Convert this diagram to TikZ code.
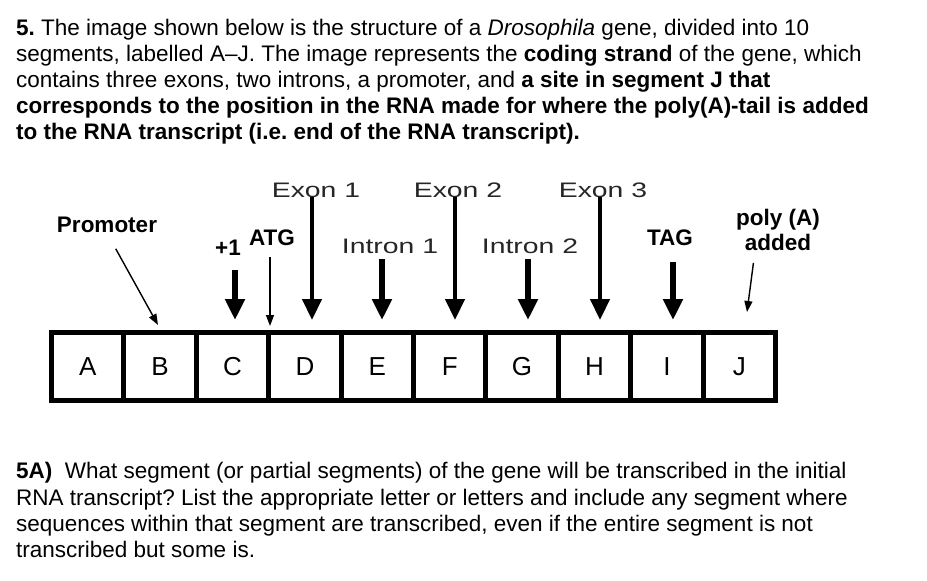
\documentclass[tikz,border=0pt]{standalone}
\usepackage{fontspec}
\setmainfont{Liberation Sans}
\usepackage{graphicx}
\usetikzlibrary{arrows.meta}
\frenchspacing

\begin{document}
\begin{tikzpicture}[x=1pt,y=-1pt,
    txt/.style={anchor=base west,inner sep=0pt,font=\fontsize{22.5}{26}\selectfont},
    lbl/.style={inner sep=0pt,font=\bfseries\fontsize{22.5}{25}\selectfont},
    exlbl/.style={inner sep=0pt,text=black!85,font=\fontsize{21}{25}\selectfont},
    seg/.style={draw,line width=5pt,minimum width=72.4pt,minimum height=68pt,inner sep=0pt,font=\fontsize{26}{30}\selectfont},
    fat/.style={line width=6.5pt,-{Triangle[width=19pt,length=21pt]}},
    longfat/.style={line width=4.5pt,-{Triangle[width=19pt,length=21pt]}},
    slim/.style={line width=1.4pt,-{Triangle[width=8pt,length=11pt]}}]
    \useasboundingbox (0,0) rectangle (927,581);
    % 题目文字
    \node[txt] (q1) at (16,35) {\textbf{5.} The image shown below is the structure of a \textit{Drosophila} gene, divided into 10};
    \node[txt] (q2) at (16,61) {segments, labelled A–J. The image represents the \textbf{coding strand} of the gene, which};
    \node[txt] (q3) at (16,87) {contains three exons, two introns, a promoter, and \textbf{a site in segment J that}};
    \node[txt] (q4) at (16,113) {\textbf{corresponds to the position in the RNA made for where the poly(A)-tail is added}};
    \node[txt] (q5) at (16,139) {\textbf{to the RNA transcript (i.e. end of the RNA transcript).}};
    % 基因片段
    \foreach \l [count=\i from 0] in {A,B,C,D,E,F,G,H,I,J}
        \node[seg] (seg\l) at (87.7+72.4*\i,366.5) {\l};
    % 标签
    \node[lbl] (promoter) at (107,225) {Promoter};
    \node[lbl] (plusone) at (228,248) {+1};
    \node[lbl] (atg) at (272,238) {ATG};
    \node[exlbl] (exonA) at (316,190) {\scalebox{1.35}[1]{Exon 1}};
    \node[exlbl] (intronA) at (390,246) {\scalebox{1.35}[1]{Intron 1}};
    \node[exlbl] (exonB) at (458,190) {\scalebox{1.35}[1]{Exon 2}};
    \node[exlbl] (intronB) at (530,246) {\scalebox{1.35}[1]{Intron 2}};
    \node[exlbl] (exonC) at (603,190) {\scalebox{1.35}[1]{Exon 3}};
    \node[lbl] (tag) at (670,238) {TAG};
    \node[lbl,align=center] (polyA) at (778,230) {poly (A)\\added};
    % 箭头终点
    \coordinate (promTip) at (158,325);
    \coordinate (plusTip) at (235,320);
    \coordinate (atgTip) at (270,326);
    \coordinate (exATip) at (312,320);
    \coordinate (inATip) at (382,320);
    \coordinate (exBTip) at (455,320);
    \coordinate (inBTip) at (528,320);
    \coordinate (exCTip) at (600,320);
    \coordinate (tagTip) at (673,320);
    \coordinate (polyTip) at (747,312);
    % 箭头
    \draw[slim,shorten <=18pt](promoter.south)--(promTip);
    \draw[fat,shorten <=14pt](plusone.south-|plusTip)--(plusTip);
    \draw[slim,shorten <=11pt](atg.south-|atgTip)--(atgTip);
    \draw[longfat](exonA.base-|exATip)--(exATip);
    \draw[fat,shorten <=6pt](intronA.base-|inATip)--(inATip);
    \draw[longfat](exonB.base-|exBTip)--(exBTip);
    \draw[fat,shorten <=6pt](intronB.base-|inBTip)--(inBTip);
    \draw[longfat](exonC.base-|exCTip)--(exCTip);
    \draw[fat,shorten <=16pt](tag.south-|tagTip)--(tagTip);
    \draw[slim,shorten <=12pt]([xshift=-23pt]polyA.south)--(polyTip);
    % 问题 5A
    \node[txt] (a1) at (16,478) {\textbf{5A)}\ \ What segment (or partial segments) of the gene will be transcribed in the initial};
    \node[txt] (a2) at (16,505) {RNA transcript? List the appropriate letter or letters and include any segment where};
    \node[txt] (a3) at (16,531) {sequences within that segment are transcribed, even if the entire segment is not};
    \node[txt] (a4) at (16,557) {transcribed but some is.};
\end{tikzpicture}
\end{document}
